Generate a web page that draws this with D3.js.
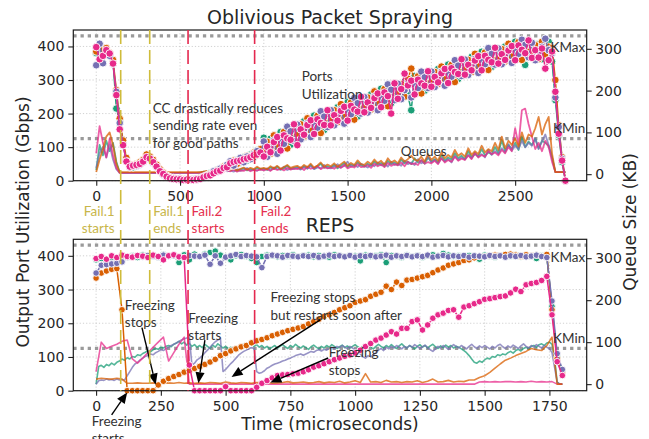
<!DOCTYPE html>
<html><head><meta charset="utf-8">
<script src="https://cdn.jsdelivr.net/npm/d3@7"></script>
<style>body{margin:0;background:#fff}svg{display:block}</style>
</head><body>
<svg id="c" width="649" height="439"></svg>
<script>
// ---------------- DATA ----------------
const seriesNames = ["teal", "orange", "purple", "pink"];
const seriesColors = ["#1b9e77", "#d95f02", "#7570b3", "#e7298a"];

// Top panel (Oblivious Packet Spraying): sampled every 20 us, 0..2800
const topStep = 20;
const topUtilTeal = [380,385,372,390,378,355,215,178,112,60, 46,40,48,53,60,72,70,58,46,32, 22,14,9,7,6,4,3,4,3,3, 5,7,12,16,22,26,32,35,40,45, 55,48,62,54,70,60,78,70,90,80, 128,86,125,85,115,145,105,136,107,158, 157,138,177,136,165,194,153,182,151,200, 200,180,219,178,205,234,193,222,191,240, 239,218,257,216,245,274,233,262,231,280, 279,258,295,254,210,312,271,300,268,316, 315,294,333,290,318,346,305,334,303,352, 351,330,369,328,356,384,345,370,339,386, 384,362,400,358,386,414,373,400,345,408, 401,374,407,362,391,414,355,240,135,55, 0];
const topUtilOrange = [385,405,390,395,380,360,270,185,120,68, 48,45,50,55,62,78,72,62,48,34, 24,15,10,8,6,5,4,3,4,3, 4,8,11,15,20,25,30,34,42,44, 44,60,50,66,58,74,66,84,76,94, 87,116,80,135,100,130,145,96,142,133, 137,168,132,186,150,179,193,142,186,175, 180,210,174,228,190,219,233,182,226,215, 219,248,212,266,230,259,273,222,266,255, 259,288,250,304,334,297,311,260,303,291, 295,324,288,340,303,331,345,294,338,327, 331,360,324,378,341,369,382,330,373,361, 364,392,355,408,371,399,413,360,400,383, 381,404,362,414,376,399,395,300,165,70, 0];
const topUtilPurple = [344,408,350,380,372,348,265,172,105,58, 40,44,44,48,56,65,64,52,40,28, 18,11,8,6,5,3,3,3,3,4, 3,6,9,13,17,28,27,36,37,47, 58,45,60,68,55,72,64,80,88,78, 117,71,100,120,80,120,110,161,147,118, 167,123,152,171,130,169,158,207,191,160, 210,165,194,213,170,209,198,247,231,200, 249,203,232,251,210,249,238,287,271,240, 289,243,270,289,248,287,276,325,308,276, 325,279,308,325,283,321,310,359,343,312, 361,315,344,363,321,359,347,395,378,346, 394,347,375,393,351,389,378,420,405,368, 411,359,382,399,423,389,380,248,160,65, 0];
const topUtilPink = [398,362,372,389,379,349,255,153,106,57, 42,45,47,50,57,70,66,55,42,28, 20,12,7,5,4,4,2,3,3,2, 4,5,10,14,16,22,28,30,38,40, 52,56,58,60,64,66,70,76,78,84, 72,101,85,115,130,90,135,126,122,168, 106,153,137,166,180,139,183,172,166,210, 165,195,179,208,220,179,223,212,206,250, 204,233,217,246,260,219,263,252,200,290, 244,273,319,284,298,257,301,290,283,326, 280,309,293,320,333,291,335,324,318,362, 316,345,329,358,371,329,372,360,353,396, 349,377,360,388,401,359,403,390,380,418, 366,389,367,394,334,359,385,265,140,60, 0];

const topQueueTeal = [10,70,45,80,55,75,30,4,3,3, 3,3,3,3,3,3,3,3,3,3, 3,3,3,3,3,3,3,3,3,3, 3,4,6,5,8,6,9,7,10,8, 9,12,8,11,14,9,12,10,15,11, 13,10,16,12,18,11,14,20,12,15, 17,12,19,14,22,13,18,25,15,19, 16,22,14,20,26,17,23,19,28,21, 18,25,20,30,22,27,19,32,24,28, 22,35,26,30,24,38,28,33,25,40, 30,36,28,45,32,40,35,50,38,44, 36,55,40,48,42,60,45,52,48,65, 50,82,55,70,60,75,58,90,65,78, 70,85,62,80,75,68,40,5,5,5, 5];
const topQueueOrange = [5,35,60,90,100,70,25,5,5,5, 5,5,5,5,5,5,5,5,5,5, 5,5,5,5,5,5,5,5,5,5, 5,5,6,8,7,10,8,12,9,11, 10,14,9,13,16,11,15,12,18,13, 15,12,19,14,20,13,17,22,15,18, 20,15,22,17,25,16,21,28,18,23, 19,26,18,24,30,20,27,22,33,24, 22,30,24,35,26,32,23,38,28,33, 26,40,30,36,44,35,32,42,30,48, 34,42,32,52,38,46,40,58,44,50, 42,62,46,55,48,68,52,60,55,75, 58,90,62,80,70,85,66,100,75,95, 90,110,137,95,120,137,50,5,5,5, 5];
const topQueuePurple = [15,50,65,40,70,35,12,3,3,3, 3,3,3,3,3,3,3,3,3,3, 3,3,3,3,3,3,3,3,3,3, 3,3,5,7,5,9,6,8,12,7, 9,6,12,8,10,15,9,11,8,13, 10,14,9,16,12,11,18,10,14,12, 15,11,17,13,20,12,16,14,22,15, 14,18,24,16,20,30,18,22,17,25, 20,16,24,19,28,21,26,18,30,22, 25,20,32,24,28,22,36,26,30,42, 28,34,26,38,30,36,28,44,34,40, 35,46,38,52,42,48,40,58,46,55, 48,62,52,72,56,68,60,80,64,75, 68,85,60,78,95,70,40,5,5,5, 5];
const topQueuePink = [50,115,75,40,85,45,15,3,3,3, 3,3,3,3,3,3,3,3,3,3, 3,3,3,3,3,3,3,3,3,3, 3,3,4,6,5,8,5,7,6,9, 7,10,6,9,8,12,7,10,9,11, 9,12,8,14,10,13,9,15,11,14, 12,16,10,18,13,15,20,12,17,14, 16,13,19,15,22,14,18,16,24,17, 18,22,15,25,19,23,17,27,20,24, 21,28,19,30,24,26,22,34,25,29, 26,32,24,38,28,34,30,42,32,37, 34,45,36,50,40,46,42,55,48,52, 45,58,50,65,55,110,70,153,157,120, 90,60,75,55,80,65,30,5,5,5, 5];

// Bottom panel (REPS): utilization sampled every 20 us, 0..1800
const botStep = 20;
const botUtilTeal = [388,392,390,395,393,398,396,400,395,402, 398,401,396,404,399,400,380,403,388,405, 398,405,410,414,402,396,388,400,404,398, 392,380,398,402,400,397,401,399,403,398, 400,402,397,401,399,396,403,400,398,401, 399,385,402,398,400,403,380,401,399,395, 402,398,401,396,400,403,399,407,402,398, 400,397,401,399,390,402,398,396,401,400, 399,402,397,401,398,392,400,398,250,100, 60];
const botUtilOrange = [334,349,355,360,362,240,0,0,0,0, 0,0,17,28,36,42,48,55,60,66, 72,78,85,93,104,110,118,124,130,134, 142,148,152,157,163,168,173,178,182,186, 190,198,205,212,220,225,232,240,246,252, 262,266,270,280,286,292,310,300,322,312, 328,330,334,338,342,350,358,364,372,376, 380,386,388,394,398,398,400,402,400,404, 405,402,398,403,400,402,398,404,240,95, 50];
const botUtilPurple = [349,372,374,376,378,382,395,398,400,397, 401,399,396,402,398,400,397,395,401,399, 398,402,375,400,378,396,400,404,398,401, 399,397,365,398,402,400,396,401,399,397, 400,398,401,396,399,402,398,400,397,401, 396,400,398,401,397,399,402,396,400,398, 401,397,400,398,402,396,399,401,397,400, 398,401,396,400,399,397,401,398,400,396, 400,398,401,397,399,402,398,395,266,110, 63];
const botUtilPink = [392,398,390,400,395,402,398,396,401,399, 395,402,398,388,400,403,397,395,76,0, 0,0,0,0,0,12,0,0,0,0, 0,10,22,30,38,45,47,48,50,52, 56,62,70,74,80,86,92,97,102,106, 112,120,131,140,150,156,165,175,168,185, 185,205,210,180,195,215,225,230,238,240, 218,248,252,258,264,271,273,276,279,281, 290,301,294,314,318,321,327,339,225,86, 45];

// Bottom panel queues: teal & purple every 10 us, pink & orange every 20 us
const botQueueFineStep = 10;
const botQueueTeal = [0,42,45,40,47,44,50,46,52,55, 60,57,63,60,66,64,70,68,73,76, 80,77,82,85,83,88,86,90,92,89, 95,98,102,96,100,93,97,90,94,88, 92,87,95,90,85,93,88,96,91,86, 90,84,88,82,80,86,91,95,97,93, 96,90,94,88,92,86,90,84,88,92, 86,90,94,89,85,92,88,95,90,86, 91,87,83,89,93,88,84,90,86,92, 88,94,90,85,89,93,87,91,86,90, 94,89,85,91,87,93,88,84,90,95, 90,86,92,88,94,89,85,91,96,90, 86,92,88,84,90,94,88,92,86,91, 95,89,85,91,87,93,88,92,86,90, 88,84,80,75,68,60,52,50,55,52, 58,62,60,66,64,70,68,72,70,75, 78,74,80,83,79,85,88,84,90,92, 88,94,96,92,98,100,95,60,5,0, 0];
const botQueuePurple = [0,8,10,9,12,10,11,9,12,10, 11,10,20,30,40,48,52,58,62,66, 68,72,70,75,78,82,80,85,88,92, 95,98,102,105,108,110,112,45,50,58, 62,68,75,81,88,95,101,105,109,30, 35,42,49,55,62,69,74,78,81,85, 87,85,30,26,28,32,38,41,45,48, 50,52,55,57,60,62,65,68,70,72, 69,72,75,78,76,80,82,79,83,81, 85,88,84,90,87,92,88,85,90,86, 82,78,72,65,62,68,65,70,75,81, 85,80,88,84,90,86,92,88,84,90, 86,92,88,94,90,85,89,93,87,82, 78,84,90,86,92,88,83,89,94,90, 86,92,88,84,90,95,89,85,91,87, 92,88,84,90,86,92,95,89,85,91, 87,93,89,85,91,96,90,86,92,88, 94,90,86,92,88,85,75,40,5,0, 0];
const botQueuePink = [30,100,85,90,95,102,105,60,50,62, 75,88,100,112,55,75,95,112,0,0, 0,0,0,0,0,0,0,0,0,0, 0,0,0,0,0,0,0,0,0,0, 0,0,0,0,0,0,0,0,0,0, 0,0,0,0,0,0,0,0,0,0, 0,0,0,0,0,0,0,0,0,0, 0,0,0,0,5,6,5,6,5,6, 6,5,6,5,7,5,6,5,6,0, 0];
const botQueueOrange = [12,14,13,12,14,12,2,2,3,2, 2,3,2,2,3,2,4,2,3,2, 3,2,4,3,2,5,3,2,4,3, 2,4,3,5,2,3,4,6,3,4, 5,3,4,6,3,5,4,7,3,5, 8,4,25,5,6,4,9,5,6,4, 6,5,8,4,7,12,5,6,9,5, 7,6,10,10,16,20,28,38,48,57, 62,68,73,78,85,82,80,92,112,0, 0];

// Thresholds (KB) and failure windows (us, REPS time axis)
const kThresholds = [{label: "KMax", value: 331}, {label: "KMin", value: 85}];
const failures = [
  {time: 95, label: ["Fail.1", "starts"], kind: "f1", side: "left"},
  {time: 207, label: ["Fail.1", "ends"], kind: "f1", side: "right"},
  {time: 355, label: ["Fail.2", "starts"], kind: "f2", side: "right"},
  {time: 612, label: ["Fail.2", "ends"], kind: "f2", side: "right"}
];
const topTicksX = [0, 500, 1000, 1500, 2000, 2500];
const botTicksX = [0, 250, 500, 750, 1000, 1250, 1500, 1750];
const utilTicks = [0, 100, 200, 300, 400];
const queueTicks = [0, 100, 200, 300];

// annotations (data coordinates)
const topNotes = [
  {lines: ["CC drastically reduces", "sending rate even", "for good paths"], t: 337, v: 217},
  {lines: ["Ports", "Utilization"], t: 1226, v: 310},
  {lines: ["Queues"], t: 1817, v: 89}
];
const botNotes = [
  {lines: ["Freezing", "starts"], t: -17, v: -90, from: [60, -72], to: [120, -5]},
  {lines: ["Freezing", "stops"], t: 111, v: 254, from: [177, 187], to: [230, 18]},
  {lines: ["Freezing", "starts"], t: 356, v: 216, from: [420, 150], to: [395, 22]},
  {lines: ["Freezing stops", "but restarts soon after"], t: 673, v: 277, from: [865, 210], to: [523, 41]},
  {lines: ["Freezing", "stops"], t: 898, v: 114, from: [896, 97], to: [673, 24]}
];

// ---------------- DRAWING ----------------
const svg = d3.select("#c");
const L = 73.3, R = 586.7;
const tickFont = "DejaVu Sans", noteFont = "Lato, 'Noto Sans', sans-serif";
const noteSize = 13.5, lineGap = 17.5;
const failColor = {f1: "#cfbc3b", f2: "#e4284f"};
const failText = {f1: "#c8b64a", f2: "#e5304f"};

function makePanel(cfg) {
  const x = d3.scaleLinear().domain(cfg.xDom).range([L, R]);
  const yL = d3.scaleLinear().domain([0, 449]).range([cfg.y1, cfg.y0]);
  const yR = d3.scaleLinear().domain([-15.6, 345]).range([cfg.y1, cfg.y0]);
  const g = svg.append("g");
  cfg.xTicks.forEach(t => g.append("line").attr("x1", x(t)).attr("x2", x(t)).attr("y1", cfg.y0).attr("y2", cfg.y1)
    .attr("stroke", "#cccccc").attr("stroke-width", 0.9).attr("stroke-dasharray", "1.2,2"));
  utilTicks.forEach(v => g.append("line").attr("x1", L).attr("x2", R).attr("y1", yL(v)).attr("y2", yL(v))
    .attr("stroke", "#cccccc").attr("stroke-width", 0.9).attr("stroke-dasharray", "1.2,2"));
  kThresholds.forEach(k => {
    g.append("line").attr("x1", L).attr("x2", R).attr("y1", yR(k.value)).attr("y2", yR(k.value))
      .attr("stroke", "#9a9a9a").attr("stroke-width", 3.3).attr("stroke-dasharray", "3.3,3.9");
  });
  const qOrder = [0, 2, 3, 1];
  qOrder.forEach(i => {
    const q = cfg.queues[i];
    const line = d3.line().x((d, j) => x(j * q.step)).y(d => yR(d));
    g.append("path").attr("d", line(q.values)).attr("fill", "none")
      .attr("stroke", seriesColors[i]).attr("stroke-opacity", 0.75).attr("stroke-width", cfg.qWidth)
      .attr("stroke-linejoin", "round");
  });
  cfg.utils.forEach((vals, i) => {
    const line = d3.line().x((d, j) => x(j * cfg.step)).y(d => yL(d));
    g.append("path").attr("d", line(vals)).attr("fill", "none")
      .attr("stroke", seriesColors[i]).attr("stroke-width", 1.5);
    g.append("g").selectAll("circle").data(vals).join("circle")
      .attr("cx", (d, j) => x(j * cfg.step)).attr("cy", d => yL(d)).attr("r", cfg.r)
      .attr("fill", seriesColors[i]).attr("stroke", "#fff").attr("stroke-width", 0.9);
  });
  const ax = (axis, tx, ty) => {
    const a = g.append("g").attr("transform", `translate(${tx},${ty})`).call(axis);
    a.select(".domain").remove();
    a.selectAll(".tick line").attr("stroke", "#222").attr("stroke-width", 1.1);
    a.selectAll("text").attr("font-family", tickFont).attr("font-size", 14).attr("fill", "#262626");
    return a;
  };
  ax(d3.axisBottom(x).tickValues(cfg.xTicks).tickSize(5).tickPadding(5).tickFormat(d3.format("d")), 0, cfg.y1);
  ax(d3.axisLeft(yL).tickValues(utilTicks).tickSize(5).tickPadding(4).tickFormat(d3.format("d")), L, 0);
  ax(d3.axisRight(yR).tickValues(queueTicks).tickSize(5).tickPadding(3.5).tickFormat(d3.format("d")), R, 0);
  g.append("rect").attr("x", L).attr("y", cfg.y0).attr("width", R - L).attr("height", cfg.y1 - cfg.y0)
    .attr("fill", "none").attr("stroke", "#1a1a1a").attr("stroke-width", 1.2);
  kThresholds.forEach((k, i) => {
    g.append("text").attr("x", R - 1.5).attr("y", cfg.kLabelY[i] + 4.8).attr("text-anchor", "end")
      .attr("font-family", noteFont).attr("font-size", noteSize).attr("fill", "#333").text(k.label);
  });
  g.append("text").attr("x", (L + R) / 2).attr("y", cfg.titleY).attr("text-anchor", "middle")
    .attr("font-family", tickFont).attr("font-size", 19).attr("fill", "#262626").text(cfg.title);
  return {x, yL, yR, g};
}

function multiText(g, lines, px, py, color, anchor) {
  const t = g.append("text").attr("font-family", noteFont).attr("font-size", noteSize)
    .attr("fill", color || "#333").attr("text-anchor", anchor || "start");
  lines.forEach((s, i) => t.append("tspan").attr("x", px).attr("y", py + 4.8 + i * lineGap).text(s));
}

function arrow(g, x1, y1, x2, y2) {
  const dx = x2 - x1, dy = y2 - y1, len = Math.hypot(dx, dy), ux = dx / len, uy = dy / len;
  const hl = 11, hw = 4.6, bx = x2 - ux * hl, by = y2 - uy * hl;
  g.append("line").attr("x1", x1).attr("y1", y1).attr("x2", bx).attr("y2", by)
    .attr("stroke", "#000").attr("stroke-width", 1.4);
  g.append("path").attr("d", `M${x2},${y2}L${bx - uy * hw},${by + ux * hw}L${bx + uy * hw},${by - ux * hw}Z`).attr("fill", "#000");
}

const topPanel = makePanel({
  y0: 30, y1: 180.7, xDom: [-137, 2927], xTicks: topTicksX, step: topStep, r: 3.8, qWidth: 1.8,
  utils: [topUtilTeal, topUtilOrange, topUtilPurple, topUtilPink],
  queues: [{values: topQueueTeal, step: topStep}, {values: topQueueOrange, step: topStep},
           {values: topQueuePurple, step: topStep}, {values: topQueuePink, step: topStep}],
  kLabelY: [46.7, 128], title: "Oblivious Packet Spraying", titleY: 23.5
});
const botPanel = makePanel({
  y0: 239.3, y1: 390.7, xDom: [-88, 1894], xTicks: botTicksX, step: botStep, r: 3.3, qWidth: 1.6,
  utils: [botUtilTeal, botUtilOrange, botUtilPurple, botUtilPink],
  queues: [{values: botQueueTeal, step: botQueueFineStep}, {values: botQueueOrange, step: botStep},
           {values: botQueuePurple, step: botQueueFineStep}, {values: botQueuePink, step: botStep}],
  kLabelY: [257.3, 338.3], title: "REPS", titleY: 231.7
});

topNotes.forEach(n => multiText(topPanel.g, n.lines, topPanel.x(n.t), topPanel.yL(n.v)));
const ann = svg.append("g");
botNotes.forEach(n => {
  multiText(ann, n.lines, botPanel.x(n.t), botPanel.yL(n.v));
  arrow(ann, botPanel.x(n.from[0]), botPanel.yL(n.from[1]), botPanel.x(n.to[0]), botPanel.yL(n.to[1]));
});

failures.forEach(f => {
  const px = botPanel.x(f.time);
  svg.append("line").attr("x1", px).attr("x2", px).attr("y1", 30).attr("y2", 390.7)
    .attr("stroke", failColor[f.kind]).attr("stroke-width", 1.6).attr("stroke-dasharray", "14,6");
  const left = f.side === "left";
  multiText(svg, f.label, left ? px - 6 : px + (f.time > 500 ? 6 : 3.5), 211, failText[f.kind], left ? "end" : "start");
});

svg.append("text").attr("transform", "translate(22.5,222) rotate(-90)").attr("text-anchor", "middle")
  .attr("dominant-baseline", "central").attr("font-family", tickFont).attr("font-size", 17).attr("fill", "#262626")
  .text("Output Port Utilization (Gbps)");
svg.append("text").attr("transform", "translate(629.5,222) rotate(-90)").attr("text-anchor", "middle")
  .attr("dominant-baseline", "central").attr("font-family", tickFont).attr("font-size", 17).attr("fill", "#262626")
  .text("Queue Size (KB)");
svg.append("text").attr("x", (L + R) / 2).attr("y", 429.5).attr("text-anchor", "middle")
  .attr("font-family", tickFont).attr("font-size", 17).attr("fill", "#262626").text("Time (microseconds)");
</script>
</body></html>
